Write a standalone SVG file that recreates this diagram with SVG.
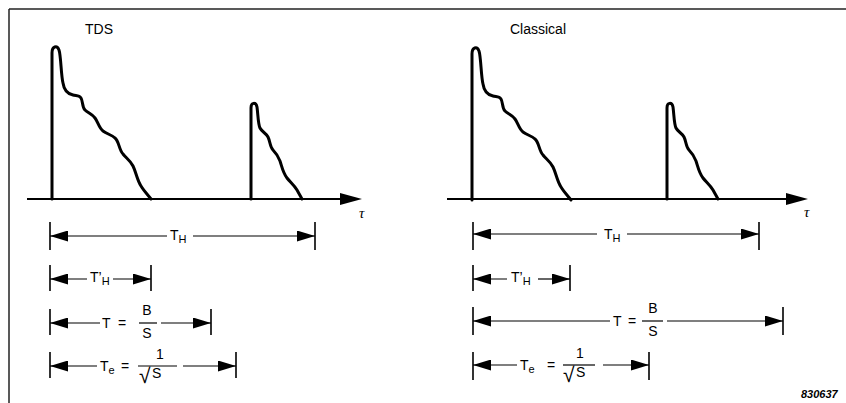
<svg xmlns="http://www.w3.org/2000/svg" width="846" height="403" viewBox="0 0 846 403">
<style>
.frame{stroke:#222;stroke-width:1.5;fill:none}
.pulse{stroke:#000;stroke-width:3;fill:none;stroke-linejoin:round;stroke-linecap:round}
.axis{stroke:#000;stroke-width:2;fill:none}
.dim{stroke:#000;stroke-width:1.2;fill:none}
.tick{stroke:#000;stroke-width:1.6}
.bar{stroke:#000;stroke-width:1.2}
text{font-family:"Liberation Sans",Arial,sans-serif;fill:#000}
.lbl{font-size:14px}
.sub{font-size:11px}
.rad{font-size:21px}
.title{font-size:14px}
.tau{font-size:15px;font-style:italic;font-family:"Liberation Serif",serif}
.fig{font-size:11px;font-weight:bold;font-style:italic}
</style>
<defs>
<marker id="ah" viewBox="0 0 18 11" refX="18" refY="5.5" markerWidth="18" markerHeight="11" markerUnits="userSpaceOnUse" orient="auto-start-reverse">
<path d="M0,0 L18,5.5 L0,11 Z" fill="#000"/>
</marker>
<path id="p1" d="M52,199 V53 C52,46 57,45 59,50 C61,56 61,75 63,83 C64,90 68,94 73,95 C76,96 79,95 81,98 C83,101 82,107 85,110 C88,113 92,114 95,118 C98,122 99,128 103,131 C107,134 112,135 115,138 C119,141 119,150 123,154 C126,158 130,160 133,166 C136,172 137,180 141,186 C144,191 148,195 151,199"/>
<path id="p2" d="M251,199 V108 C251,102 256,102 257,107 C258,114 258,124 260,128 C262,132 266,133 268,137 C270,141 270,147 273,150 C276,153 278,156 280,161 C282,167 283,173 287,178 C290,182 294,185 297,190 L302,199"/>
</defs>

<g id="frame">
<line class="frame" x1="9" y1="9" x2="846" y2="9"/>
<line class="frame" x1="9" y1="9" x2="9" y2="403"/>
</g>

<g id="tds-panel">
<text class="title" x="85" y="34">TDS</text>
<line class="axis" x1="27" y1="199" x2="344" y2="199"/>
<polygon points="340,193 362,199 340,205" fill="#000"/>
<text class="tau" x="359" y="218">τ</text>
<use href="#p1" class="pulse"/>
<use href="#p2" class="pulse"/>
</g>

<g id="classical-panel">
<text class="title" x="510" y="34">Classical</text>
<line class="axis" x1="447" y1="199" x2="790" y2="199"/>
<polygon points="786,193 808,199 786,205" fill="#000"/>
<text class="tau" x="804" y="217">τ</text>
<use href="#p1" class="pulse" transform="translate(420,1)"/>
<use href="#p2" class="pulse" transform="translate(416,0)"/>
</g>

<g id="connectors">
<line class="tick" x1="50" y1="222" x2="50" y2="250"/>
<line class="tick" x1="315" y1="222" x2="315" y2="250"/>
<line class="dim" x1="50" y1="236" x2="167" y2="236" marker-start="url(#ah)"/>
<line class="dim" x1="193" y1="236" x2="315" y2="236" marker-end="url(#ah)"/>
<line class="tick" x1="50" y1="265" x2="50" y2="291"/>
<line class="tick" x1="151" y1="265" x2="151" y2="291"/>
<line class="dim" x1="50" y1="279" x2="87" y2="279" marker-start="url(#ah)"/>
<line class="dim" x1="113" y1="279" x2="151" y2="279" marker-end="url(#ah)"/>
<line class="tick" x1="50" y1="309" x2="50" y2="335"/>
<line class="tick" x1="211" y1="309" x2="211" y2="335"/>
<line class="dim" x1="50" y1="323" x2="100" y2="323" marker-start="url(#ah)"/>
<line class="dim" x1="161" y1="323" x2="211" y2="323" marker-end="url(#ah)"/>
<line class="tick" x1="50" y1="352" x2="50" y2="378"/>
<line class="tick" x1="236" y1="352" x2="236" y2="378"/>
<line class="dim" x1="50" y1="366" x2="97" y2="366" marker-start="url(#ah)"/>
<line class="dim" x1="183" y1="366" x2="236" y2="366" marker-end="url(#ah)"/>

<line class="tick" x1="473" y1="222" x2="473" y2="250"/>
<line class="tick" x1="759" y1="222" x2="759" y2="250"/>
<line class="dim" x1="473" y1="234" x2="597" y2="234" marker-start="url(#ah)"/>
<line class="dim" x1="627" y1="234" x2="759" y2="234" marker-end="url(#ah)"/>
<line class="tick" x1="473" y1="265" x2="473" y2="291"/>
<line class="tick" x1="570" y1="265" x2="570" y2="291"/>
<line class="dim" x1="473" y1="279" x2="507" y2="279" marker-start="url(#ah)"/>
<line class="dim" x1="538" y1="279" x2="570" y2="279" marker-end="url(#ah)"/>
<line class="tick" x1="473" y1="307" x2="473" y2="335"/>
<line class="tick" x1="783" y1="307" x2="783" y2="335"/>
<line class="dim" x1="473" y1="321" x2="610" y2="321" marker-start="url(#ah)"/>
<line class="dim" x1="667" y1="321" x2="783" y2="321" marker-end="url(#ah)"/>
<line class="tick" x1="473" y1="352" x2="473" y2="380"/>
<line class="tick" x1="649" y1="352" x2="649" y2="380"/>
<line class="dim" x1="473" y1="365" x2="517" y2="365" marker-start="url(#ah)"/>
<line class="dim" x1="603" y1="365" x2="649" y2="365" marker-end="url(#ah)"/>
</g>

<g id="labels-left">
<text class="lbl" x="170" y="240">T<tspan class="sub" dy="3">H</tspan></text>
<text class="lbl" x="90" y="282">T’<tspan class="sub" dy="3">H</tspan></text>
<text class="lbl" x="102" y="328">T</text>
<text class="lbl" x="118" y="328">=</text>
<text class="lbl" x="147" y="315" text-anchor="middle">B</text>
<line class="bar" x1="139" y1="323" x2="157" y2="323"/>
<text class="lbl" x="147" y="338" text-anchor="middle">S</text>
<text class="lbl" x="100" y="371">T<tspan class="sub" dy="3">e</tspan></text>
<text class="lbl" x="121" y="371">=</text>
<text class="lbl" x="160" y="359" text-anchor="middle">1</text>
<line class="bar" x1="138" y1="366" x2="177" y2="366"/>
<text class="rad" x="139" y="383">√</text>
<text class="lbl" x="152" y="378">S</text>
</g>

<g id="labels-right">
<text class="lbl" x="604" y="239">T<tspan class="sub" dy="3">H</tspan></text>
<text class="lbl" x="511" y="282">T’<tspan class="sub" dy="3">H</tspan></text>
<text class="lbl" x="613" y="326">T</text>
<text class="lbl" x="628" y="326">=</text>
<text class="lbl" x="653" y="313" text-anchor="middle">B</text>
<line class="bar" x1="642" y1="321" x2="663" y2="321"/>
<text class="lbl" x="653" y="336" text-anchor="middle">S</text>
<text class="lbl" x="520" y="370">T<tspan class="sub" dy="3">e</tspan></text>
<text class="lbl" x="547" y="370">=</text>
<text class="lbl" x="580" y="358" text-anchor="middle">1</text>
<line class="bar" x1="563" y1="365" x2="595" y2="365"/>
<text class="rad" x="563" y="382">√</text>
<text class="lbl" x="576" y="377">S</text>
<text class="fig" x="801" y="398">830637</text>
</g>
</svg>
